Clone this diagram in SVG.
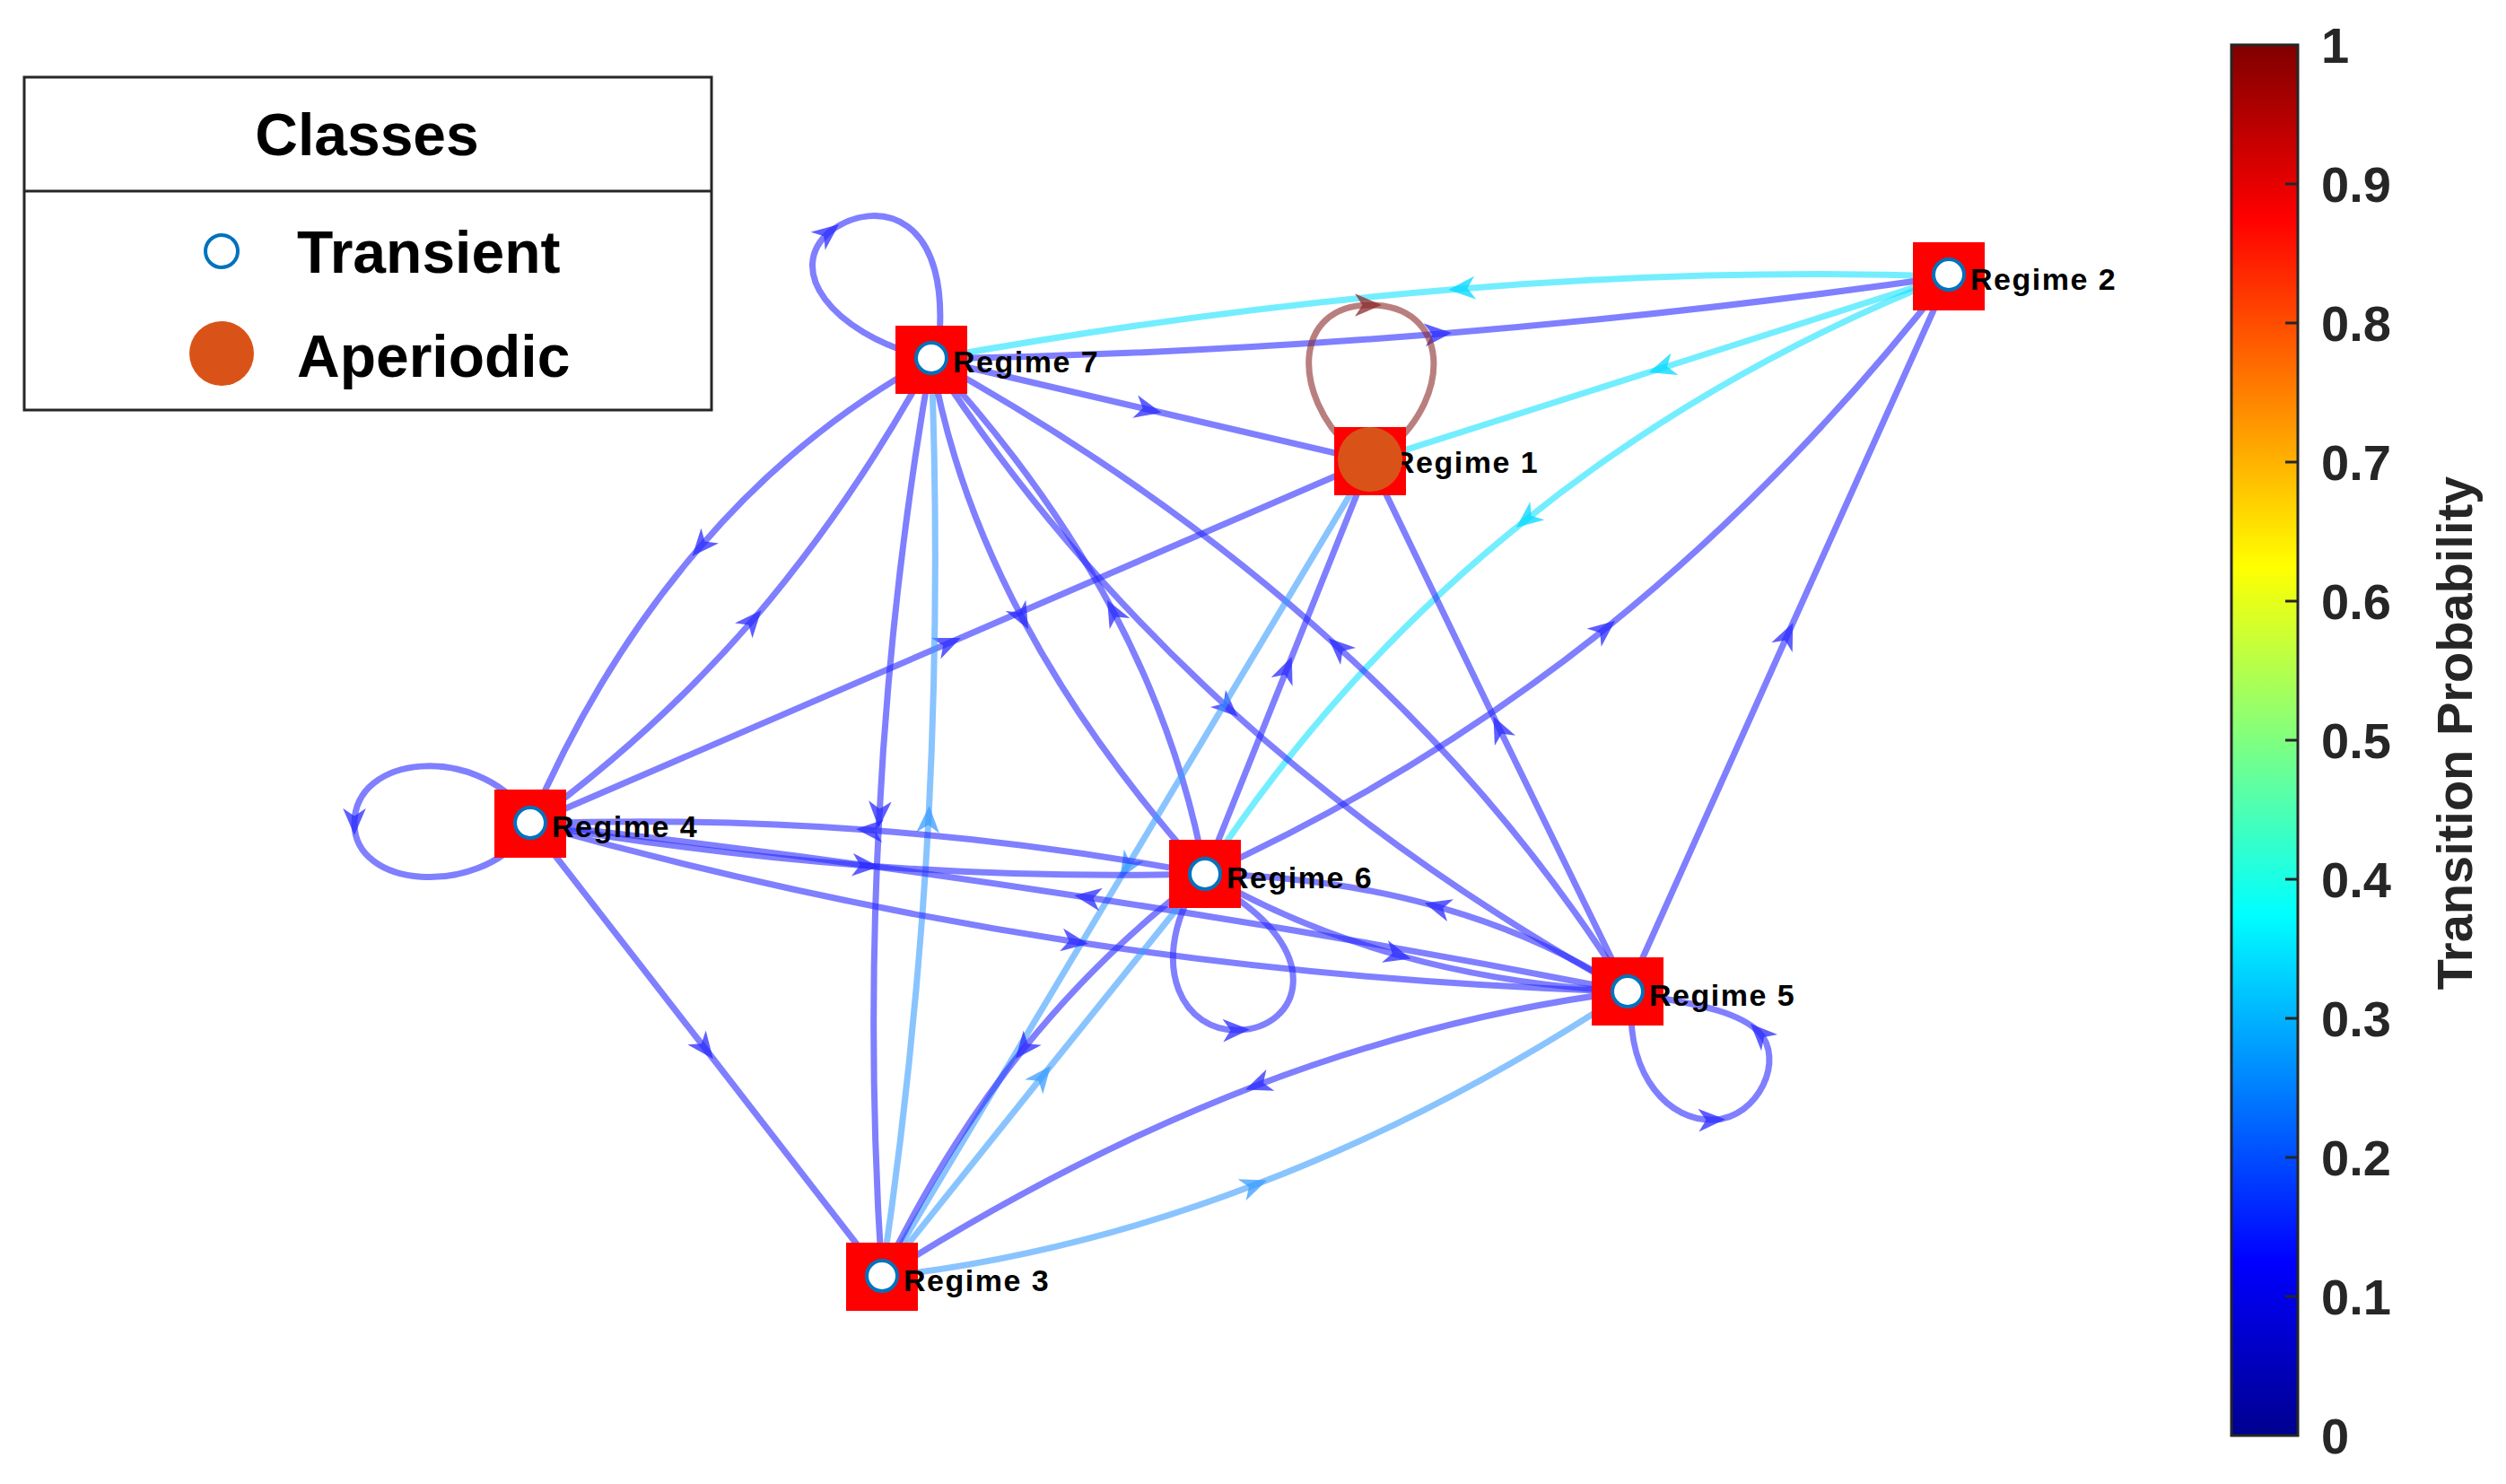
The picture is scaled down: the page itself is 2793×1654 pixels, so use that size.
<svg xmlns="http://www.w3.org/2000/svg" width="2793" height="1654" viewBox="0 0 2793 1654">
<defs>
<style>
.e{fill:none;stroke-width:7;stroke-linecap:round}
.b{stroke:#2a2aff;stroke-opacity:.6;marker-mid:url(#ab)}
.c{stroke:#00e0ff;stroke-opacity:.55;marker-mid:url(#ac)}
.l{stroke:#3a9cff;stroke-opacity:.6;marker-mid:url(#al)}
.r{stroke:#8a2a2a;stroke-opacity:.6;marker-mid:url(#ar)}
.sq{fill:#ff0000}
.tc{fill:#fff;stroke:#0072bd;stroke-width:4}
.lab{font-family:"Liberation Sans",Arial,sans-serif;font-weight:bold;font-size:34px;letter-spacing:1.5px;fill:#000}
.tk{font-family:"Liberation Sans",Arial,sans-serif;font-weight:bold;font-size:56px;fill:#262626}
.lg{font-family:"Liberation Sans",Arial,sans-serif;font-weight:bold;font-size:66px;fill:#000}
</style>
<marker id="ab" viewBox="-16 -12 28 24" markerWidth="30" markerHeight="26" markerUnits="userSpaceOnUse" orient="auto"><path d="M12,0 L-16,-12 L-8,0 L-16,12 Z" fill="#2a2aff" fill-opacity=".75"/></marker>
<marker id="ac" viewBox="-16 -12 28 24" markerWidth="30" markerHeight="26" markerUnits="userSpaceOnUse" orient="auto"><path d="M12,0 L-16,-12 L-8,0 L-16,12 Z" fill="#00d8ff" fill-opacity=".75"/></marker>
<marker id="al" viewBox="-16 -12 28 24" markerWidth="30" markerHeight="26" markerUnits="userSpaceOnUse" orient="auto"><path d="M12,0 L-16,-12 L-8,0 L-16,12 Z" fill="#3a9cff" fill-opacity=".75"/></marker>
<marker id="ar" viewBox="-16 -12 28 24" markerWidth="30" markerHeight="26" markerUnits="userSpaceOnUse" orient="auto"><path d="M12,0 L-16,-12 L-8,0 L-16,12 Z" fill="#8a2a2a" fill-opacity=".75"/></marker>
<linearGradient id="jet" x1="0" y1="1" x2="0" y2="0">
<stop offset="0" stop-color="#00008f"/><stop offset=".125" stop-color="#0000ff"/><stop offset=".375" stop-color="#00ffff"/><stop offset=".625" stop-color="#ffff00"/><stop offset=".875" stop-color="#ff0000"/><stop offset="1" stop-color="#800000"/>
</linearGradient>
</defs>
<rect width="2793" height="1654" fill="#fff"/>
<g id="connectors">
<path class="e c" d="M2172,308 Q1911,299 1627,322 Q1344,345 1038,400"/>
<path class="e b" d="M1038,400 Q1321,395 1605,372 Q1888,349 2172,308"/>
<path class="e b" d="M1038,400 L1282,457 L1527,514"/>
<path class="e c" d="M2172,308 L1850,411 L1527,514"/>
<path class="e c" d="M2172,308 Q1907,413 1700,580 Q1492,746 1343,974"/>
<path class="e b" d="M1343,974 Q1582,866 1790,700 Q1997,533 2172,308"/>
<path class="e b" d="M1814,1105 L1993,706 L2172,308"/>
<path class="e b" d="M1038,400 Q891,480 780,610 Q668,739 591,918"/>
<path class="e b" d="M591,918 Q728,819 840,690 Q951,560 1038,400"/>
<path class="e b" d="M591,918 L1059,716 L1527,514"/>
<path class="e b" d="M1038,400 Q993,654 980,910 Q966,1165 983,1423"/>
<path class="e l" d="M983,1423 Q1021,1166 1035,911 Q1048,655 1038,400"/>
<path class="e b" d="M1038,400 Q1063,546 1140,690 Q1216,833 1343,974"/>
<path class="e b" d="M1343,974 Q1316,823 1240,680 Q1163,536 1038,400"/>
<path class="e b" d="M1038,400 Q1176,613 1370,790 Q1564,966 1814,1105"/>
<path class="e b" d="M1814,1105 Q1684,896 1490,720 Q1296,543 1038,400"/>
<path class="e b" d="M1343,974 L1435,744 L1527,514"/>
<path class="e l" d="M1527,514 L1255,968 L983,1423"/>
<path class="e b" d="M1814,1105 L1670,810 L1527,514"/>
<path class="e b" d="M1343,974 Q1155,939 967,925 Q779,911 591,918"/>
<path class="e b" d="M591,918 Q779,951 967,965 Q1155,979 1343,974"/>
<path class="e b" d="M591,918 Q894,1003 1200,1050 Q1505,1096 1814,1105"/>
<path class="e b" d="M1814,1105 Q1516,1046 1210,1000 Q904,953 591,918"/>
<path class="e b" d="M591,918 L787,1170 L983,1423"/>
<path class="e b" d="M1343,974 Q1442,1032 1560,1065 Q1678,1098 1814,1105"/>
<path class="e b" d="M1814,1105 Q1718,1043 1600,1010 Q1482,977 1343,974"/>
<path class="e b" d="M1814,1105 Q1608,1131 1400,1210 Q1192,1290 983,1423"/>
<path class="e l" d="M983,1423 Q1192,1400 1400,1320 Q1608,1241 1814,1105"/>
<path class="e l" d="M983,1423 L1163,1198 L1343,974"/>
<path class="e b" d="M1343,974 Q1230,1058 1140,1170 Q1050,1283 983,1423"/>
<path class="e b" d="M1030,398 C925,370 875,300 925,258 C975,220 1065,235 1045,395"/>
<path class="e r" d="M1505,500 C1440,440 1440,340 1527,340 C1615,340 1620,440 1548,500"/>
<path class="e b" d="M585,905 C530,830 395,840 395,918 C395,990 530,1000 585,930"/>
<path class="e b" d="M1330,990 C1280,1080 1320,1150 1380,1148 C1450,1146 1480,1060 1360,990"/>
<path class="e b" d="M1818,1120 C1815,1200 1860,1250 1910,1248 C1960,1246 1990,1180 1960,1150 C1940,1130 1900,1120 1835,1110"/>
</g>
<g id="node-regime7"><rect class="sq" x="998" y="363" width="80" height="76"/><text class="lab" x="1062" y="415">Regime 7</text><circle class="tc" cx="1038" cy="399" r="17"/></g>
<g id="node-regime1"><rect class="sq" x="1487" y="476" width="80" height="76"/><text class="lab" x="1552" y="527">Regime 1</text><circle cx="1527" cy="512" r="36" fill="#d95319"/></g>
<g id="node-regime2"><rect class="sq" x="2132" y="270" width="80" height="76"/><text class="lab" x="2196" y="323">Regime 2</text><circle class="tc" cx="2172" cy="306" r="17"/></g>
<g id="node-regime4"><rect class="sq" x="551" y="880" width="80" height="76"/><text class="lab" x="615" y="933">Regime 4</text><circle class="tc" cx="591" cy="917" r="17"/></g>
<g id="node-regime6"><rect class="sq" x="1303" y="936" width="80" height="76"/><text class="lab" x="1367" y="990">Regime 6</text><circle class="tc" cx="1343" cy="974" r="17"/></g>
<g id="node-regime5"><rect class="sq" x="1774" y="1067" width="80" height="76"/><text class="lab" x="1838" y="1121">Regime 5</text><circle class="tc" cx="1814" cy="1105" r="17"/></g>
<g id="node-regime3"><rect class="sq" x="943" y="1385" width="80" height="76"/><text class="lab" x="1007" y="1439">Regime 3</text><circle class="tc" cx="983" cy="1422" r="17"/></g>
<g id="legend">
<rect x="27" y="86" width="766" height="371" fill="#fff" stroke="#262626" stroke-width="3"/>
<line x1="27" y1="213" x2="793" y2="213" stroke="#262626" stroke-width="3"/>
<text class="lg" x="409" y="173" text-anchor="middle">Classes</text>
<circle cx="247" cy="280" r="18" fill="#fff" stroke="#0072bd" stroke-width="4"/>
<text class="lg" x="331" y="304">Transient</text>
<circle cx="247" cy="394" r="36" fill="#d95319"/>
<text class="lg" x="331" y="420">Aperiodic</text>
</g>
<g id="colorbar">
<rect x="2487" y="50" width="74" height="1550" fill="url(#jet)" stroke="#262626" stroke-width="3"/>
<g stroke="#262626" stroke-width="3">
<line x1="2547" y1="205" x2="2561" y2="205"/><line x1="2547" y1="360" x2="2561" y2="360"/><line x1="2547" y1="515" x2="2561" y2="515"/><line x1="2547" y1="670" x2="2561" y2="670"/><line x1="2547" y1="825" x2="2561" y2="825"/><line x1="2547" y1="980" x2="2561" y2="980"/><line x1="2547" y1="1135" x2="2561" y2="1135"/><line x1="2547" y1="1290" x2="2561" y2="1290"/><line x1="2547" y1="1445" x2="2561" y2="1445"/>
</g>
<text class="tk" x="2587" y="70">1</text>
<text class="tk" x="2587" y="225">0.9</text>
<text class="tk" x="2587" y="380">0.8</text>
<text class="tk" x="2587" y="535">0.7</text>
<text class="tk" x="2587" y="690">0.6</text>
<text class="tk" x="2587" y="845">0.5</text>
<text class="tk" x="2587" y="1000">0.4</text>
<text class="tk" x="2587" y="1155">0.3</text>
<text class="tk" x="2587" y="1310">0.2</text>
<text class="tk" x="2587" y="1465">0.1</text>
<text class="tk" x="2587" y="1620">0</text>
<text class="tk" x="0" y="0" text-anchor="middle" transform="translate(2755,817) rotate(-90)">Transition Probability</text>
</g>
</svg>
